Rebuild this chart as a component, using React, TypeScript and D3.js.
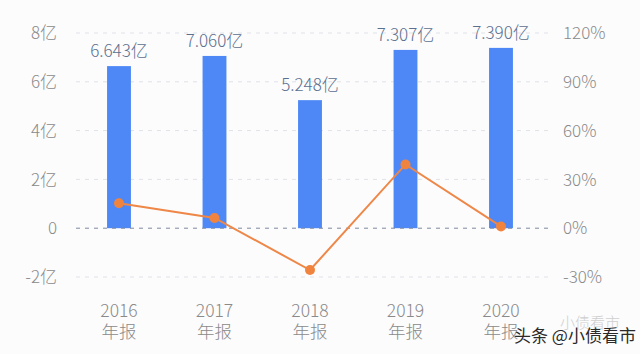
import React from "react";
import * as d3 from "d3";

const years = ["2016", "2017", "2018", "2019", "2020"];
const revenue = [6.643, 7.06, 5.248, 7.307, 7.39];
const growth = [15.3, 6.3, -25.7, 39.2, 1.1];
const leftTicks = [-2, 0, 2, 4, 6, 8];
const rightTicks = [-30, 0, 30, 60, 90, 120];
const leftTickLabels = ["-2亿", "0", "2亿", "4亿", "6亿", "8亿"];
const rightTickLabels = ["-30%", "0%", "30%", "60%", "90%", "120%"];
const xSubLabel = "年报";

const W = 640;
const H = 354;
const FONT = "'Noto Sans CJK SC', 'Noto Sans', sans-serif";

export default function App() {
  React.useEffect(() => {
    document.body.style.margin = "0";
  }, []);

  const x = d3
    .scaleBand<string>()
    .domain(years)
    .range([71.25, 548.75])
    .paddingInner(0.75)
    .paddingOuter(0.375);
  const yL = d3.scaleLinear().domain([-2, 8]).range([277, 33]);
  const yR = d3.scaleLinear().domain([-30, 120]).range([277, 33]);

  const cx = (i: number) => (x(years[i]) as number) + x.bandwidth() / 2;

  const line = d3
    .line<number>()
    .x((_, i) => cx(i))
    .y((d) => yR(d));

  const gridX0 = 76;
  const gridX1 = 548;

  return (
    <svg
      width={W}
      height={H}
      style={{ display: "block", position: "absolute", left: 0, top: 0 }}
      fontFamily={FONT}
      fontWeight={300}
    >
      <rect x={0} y={0} width={W} height={H} fill="#fcfcfd" />
      {leftTicks.map((t) =>
        t === 0 ? null : (
          <line
            key={t}
            x1={gridX0}
            x2={gridX1}
            y1={yL(t)}
            y2={yL(t)}
            stroke="#e0e2e7"
            strokeWidth={1}
            strokeDasharray="4 5"
          />
        )
      )}
      {revenue.map((v, i) => (
        <rect
          key={years[i]}
          x={x(years[i])}
          y={yL(v)}
          width={x.bandwidth()}
          height={yL(0) - yL(v)}
          fill="#4e88f6"
        />
      ))}
      <line
        x1={gridX0}
        x2={gridX1}
        y1={yL(0)}
        y2={yL(0)}
        stroke="#7d879c"
        strokeWidth={1}
        strokeDasharray="4 5"
      />
      {revenue.map((v, i) => (
        <text
          key={"l" + years[i]}
          x={cx(i)}
          y={yL(v) - 9}
          textAnchor="middle"
          fontSize={17}
          fill="#5b6f8f"
        >
          {v.toFixed(3) + "亿"}
        </text>
      ))}
      <path d={line(growth) || ""} fill="none" stroke="#ee8747" strokeWidth={2} />
      {growth.map((g, i) => (
        <circle key={"c" + years[i]} cx={cx(i)} cy={yR(g)} r={5} fill="#f0843f" />
      ))}
      {leftTicks.map((t, i) => (
        <text
          key={"yl" + t}
          x={57}
          y={yL(t)}
          dy="0.36em"
          textAnchor="end"
          fontSize={17}
          fill="#8a8a8a"
        >
          {leftTickLabels[i]}
        </text>
      ))}
      {rightTicks.map((t, i) => (
        <text
          key={"yr" + t}
          x={563}
          y={yR(t)}
          dy="0.36em"
          textAnchor="start"
          fontSize={17}
          fill="#8a8a8a"
        >
          {rightTickLabels[i]}
        </text>
      ))}
      {years.map((yr, i) => (
        <g key={"x" + yr}>
          <text x={cx(i)} y={317} textAnchor="middle" fontSize={17.5} fill="#8a8a8a">
            {yr}
          </text>
          <text x={cx(i)} y={338} textAnchor="middle" fontSize={17.5} fill="#8a8a8a">
            {xSubLabel}
          </text>
        </g>
      ))}
      <text x={560} y={328} fontSize={15} fill="#cfcfcf">
        小债看市
      </text>
      <text x={514} y={342} fontSize={17} fontWeight={400} fill="#2a2a2a">
        头条 @小债看市
      </text>
    </svg>
  );
}
